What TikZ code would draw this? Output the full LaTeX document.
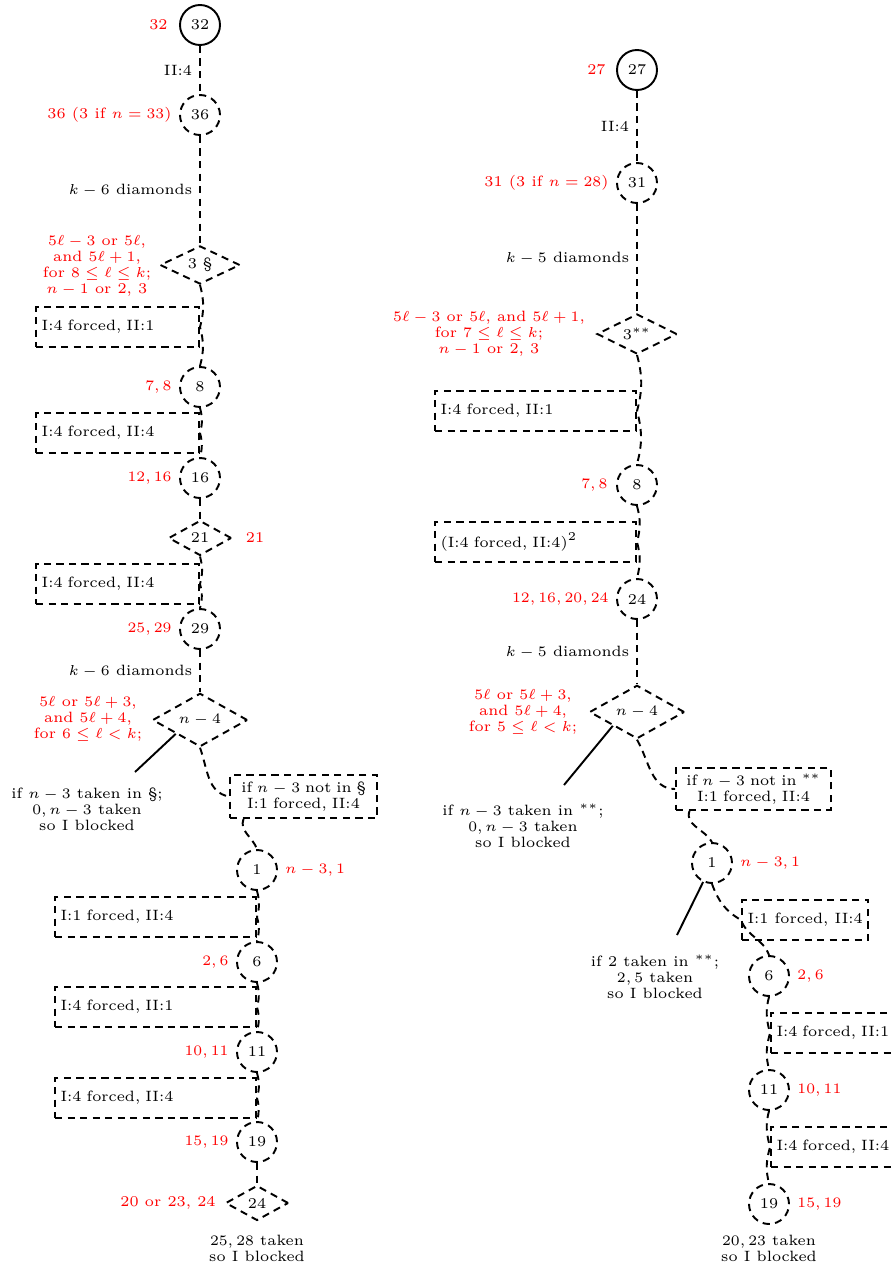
\documentclass[tikz,border=0pt]{standalone}
\usetikzlibrary{shapes.geometric}
\begin{document}
\begin{tikzpicture}[x=0.415pt,y=0.415pt,
  font=\fontsize{6.2}{6.6}\selectfont,
  lw/.style={line width=0.8pt},
  dsh/.style={dash pattern=on 3pt off 2.2pt},
  scirc/.style={circle,draw,lw,minimum size=16.6pt,inner sep=0pt},
  dcirc/.style={scirc,dsh},
  diam/.style={diamond,draw,lw,dsh,inner sep=0pt},
  fbox/.style={rectangle,draw,lw,dsh,minimum height=16.6pt,inner xsep=2.3pt,inner ysep=0pt,align=left},
  rlab/.style={text=red,inner sep=0pt,align=center},
  blab/.style={inner sep=0pt,align=center},
  conn/.style={lw,dsh},
  wav/.style={out=-75,in=75},
  wavl/.style={out=-105,in=105}]
\useasboundingbox (0,0) rectangle (891,-1266);

% ---------------- left column ----------------
\node[scirc] (c32) at (200,-25) {32};
\node[rlab,anchor=east] (r32) at (168,-25) {32};
\node[dcirc] (c36) at (200,-115) {36};
\node[rlab,anchor=east] (r36) at (172,-115) {36 (3 if $n=33$)};
\node[diam,minimum width=33.2pt,minimum height=15.8pt] (d1) at (200,-265) {3 \S};
\node[rlab] (rd1) at (97,-266) {$5\ell-3$ or $5\ell$,\\and $5\ell+1$,\\for $8\le\ell\le k$;\\$n-1$ or 2, 3};
\node[fbox,text width=63pt,anchor=east] (b1) at (200,-327) {I:4 forced, II:1};
\node[dcirc] (c8) at (200,-387) {8};
\node[rlab,anchor=east] (r8) at (172,-387) {$7, 8$};
\node[fbox,text width=63pt,anchor=east] (b2) at (200,-433) {I:4 forced, II:4};
\node[dcirc] (c16) at (200,-478) {16};
\node[rlab,anchor=east] (r16) at (172,-478) {$12, 16$};
\node[diam,minimum width=26.1pt,minimum height=14.5pt] (d2) at (200,-538) {21};
\node[rlab] (r21) at (255,-538) {21};
\node[fbox,text width=63pt,anchor=east] (b3) at (200,-584) {I:4 forced, II:4};
\node[dcirc] (c29) at (200,-629) {29};
\node[rlab,anchor=east] (r29) at (172,-629) {$25, 29$};
\node[diam,minimum width=39.4pt,minimum height=19.5pt] (d3) at (200,-720) {$n-4$};
\node[rlab] (rd3) at (88,-719) {$5\ell$ or $5\ell+3$,\\and $5\ell+4$,\\for $6\le\ell<k$;};
\node[blab] (t1) at (87,-809) {if $n-3$ taken in \S;\\$0, n-3$ taken\\so I blocked};
\coordinate (e1) at (135,-772);
\node[fbox,text width=56.4pt,align=center,minimum height=17.8pt] (b4) at (303.5,-796.5) {if $n-3$ not in \S\\I:1 forced, II:4};
\node[dcirc] (c1) at (257,-870) {1};
\node[rlab,anchor=west] (r1) at (285,-870) {$n-3, 1$};
\node[fbox,text width=78.8pt,anchor=east] (b5) at (257,-917) {I:1 forced, II:4};
\node[dcirc] (c6) at (257,-962) {6};
\node[rlab,anchor=east] (r6) at (229,-962) {$2, 6$};
\node[fbox,text width=78.8pt,anchor=east] (b6) at (257,-1007) {I:4 forced, II:1};
\node[dcirc] (c11) at (257,-1052) {11};
\node[rlab,anchor=east] (r11) at (229,-1052) {$10, 11$};
\node[fbox,text width=78.8pt,anchor=east] (b7) at (257,-1098) {I:4 forced, II:4};
\node[dcirc] (c19) at (257,-1142) {19};
\node[rlab,anchor=east] (r19) at (229,-1142) {$15, 19$};
\node[diam,minimum width=26.1pt,minimum height=14.5pt] (d4) at (257,-1203) {24};
\node[rlab,anchor=east] (r24) at (216,-1203) {20 or 23, 24};
\node[blab] (t2) at (257,-1248) {$25, 28$ taken\\so I blocked};

% ---------------- right column ----------------
\node[scirc] (c27) at (637,-70) {27};
\node[rlab,anchor=east] (r27) at (606,-70) {27};
\node[dcirc] (c31) at (637,-183) {31};
\node[rlab,anchor=east] (r31) at (609,-183) {31 (3 if $n=28$)};
\node[diam,minimum width=33.2pt,minimum height=16.6pt] (d5) at (637,-334) {3$^{**}$};
\node[rlab] (rd5) at (489,-334) {$5\ell-3$ or $5\ell$, and $5\ell+1$,\\for $7\le\ell\le k$;\\$n-1$ or 2, 3};
\node[fbox,text width=78.8pt,anchor=east] (b8) at (637,-411) {I:4 forced, II:1};
\node[dcirc] (c8b) at (637,-485) {8};
\node[rlab,anchor=east] (r8b) at (608,-485) {$7, 8$};
\node[fbox,text width=78.8pt,anchor=east] (b9) at (637,-542) {(I:4 forced, II:4)$^2$};
\node[dcirc] (c24) at (637,-599) {24};
\node[rlab,anchor=east] (r24b) at (609,-599) {$12, 16, 20, 24$};
\node[diam,minimum width=39.4pt,minimum height=19pt] (d6) at (637,-712) {$n-4$};
\node[rlab] (rd6) at (523,-712) {$5\ell$ or $5\ell+3$,\\and $5\ell+4$,\\for $5\le\ell<k$;};
\node[blab] (t3) at (523,-826) {if $n-3$ taken in $^{**}$;\\$0, n-3$ taken\\so I blocked};
\coordinate (e3) at (564,-785);
\node[fbox,text width=59.7pt,align=center,minimum height=17.4pt] (b10) at (753.5,-789) {if $n-3$ not in $^{**}$\\I:1 forced, II:4};
\node[dcirc] (c1b) at (712,-863) {1};
\node[rlab,anchor=west] (r1b) at (740,-863) {$n-3, 1$};
\node[blab] (t4) at (655,-977) {if 2 taken in $^{**}$;\\$2, 5$ taken\\so I blocked};
\coordinate (e4) at (677,-935);
\node[fbox,anchor=west] (b11) at (741,-920) {I:1 forced, II:4};
\node[dcirc] (c6b) at (769,-976) {6};
\node[rlab,anchor=west] (r6b) at (797,-976) {$2, 6$};
\node[fbox,text width=78.8pt,anchor=west] (b12) at (770,-1033) {I:4 forced, II:1};
\node[dcirc] (c11b) at (769,-1090) {11};
\node[rlab,anchor=west] (r11b) at (797,-1090) {$10, 11$};
\node[fbox,text width=78.8pt,anchor=west] (b13) at (770,-1147) {I:4 forced, II:4};
\node[dcirc] (c19b) at (769,-1204) {19};
\node[rlab,anchor=west] (r19b) at (797,-1204) {$15, 19$};
\node[blab] (t5) at (769,-1248) {$20, 23$ taken\\so I blocked};

% ---------------- connectors left ----------------
\draw[conn] (c32) -- node[blab,left=2.9pt] (l1) {II:4} (c36);
\draw[conn] (c36) -- node[blab,left=2.9pt] (l2) {$k-6$ diamonds} (d1);
\draw[conn] (d1.south) to[wav] (b1.east) to[wav] (c8.north);
\draw[conn] (c8.south) to[wav] (b2.east) to[wav] (c16.north);
\draw[conn] (c16) -- (d2);
\draw[conn] (d2.south) to[wav] (b3.east) to[wav] (c29.north);
\draw[conn] (c29) -- node[blab,left=2.9pt] (l3) {$k-6$ diamonds} (d3);
\draw[conn] (d3.south) to[out=-70,in=170] (b4.west);
\draw[conn] ([xshift=6pt]b4.south west) to[out=-110,in=110] (c1.north);
\draw[conn] (c1.south) to[wav] (b5.east) to[wav] (c6.north);
\draw[conn] (c6.south) to[wav] (b6.east) to[wav] (c11.north);
\draw[conn] (c11.south) to[wav] (b7.east) to[wav] (c19.north);
\draw[conn] (c19) -- (d4);
\draw[lw] (d3.south west) -- (e1);

% ---------------- connectors right ----------------
\draw[conn] (c27) -- node[blab,left=2.9pt] (l4) {II:4} (c31);
\draw[conn] (c31) -- node[blab,left=2.9pt] (l5) {$k-5$ diamonds} (d5);
\draw[conn] (d5.south) to[wav] (b8.east) to[wav] (c8b.north);
\draw[conn] (c8b.south) to[wav] (b9.east) to[wav] (c24.north);
\draw[conn] (c24) -- node[blab,left=2.9pt] (l6) {$k-5$ diamonds} (d6);
\draw[conn] (d6.south) to[out=-60,in=180] (b10.west);
\draw[conn] ([xshift=6pt]b10.south west) to[out=-110,in=120] (c1b.north);
\draw[conn] (c1b.south) to[out=-70,in=150] (b11.west) to[out=-70,in=110] (c6b.north);
\draw[conn] (c6b.south) to[wavl] (b12.west) to[wavl] (c11b.north);
\draw[conn] (c11b.south) to[wavl] (b13.west) to[wavl] (c19b.north);
\draw[lw] (d6.south west) -- (e3);
\draw[lw] (c1b.-115) -- (e4);
\end{tikzpicture}
\end{document}
